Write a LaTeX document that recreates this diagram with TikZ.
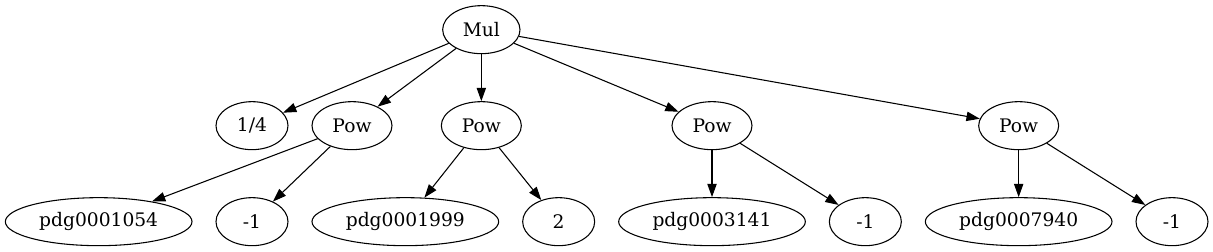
\documentclass[tikz,border=0pt]{standalone}
\usepackage{fontspec}
\setmainfont{DejaVu Serif}
\usepackage{tikz}
\usetikzlibrary{arrows.meta,shapes.geometric}
\definecolor{gvink}{HTML}{000000}

\begin{document}
\begin{tikzpicture}[x=1pt,y=1pt,
  gvnode/.style={draw=gvink,ellipse,line width=0.8pt,inner sep=0pt,
    minimum height=36pt,font=\fontsize{14}{16}\selectfont},
  leafnode/.style={gvnode,minimum width=140pt},
  numnode/.style={gvnode,minimum width=54pt},
  opnode/.style={gvnode,minimum width=60pt},
  gvedge/.style={draw=gvink,line width=0.8pt,-{Triangle[length=10pt,width=7pt]}}]
\useasboundingbox (0,0) rectangle (909.75,188.25);
\node[gvnode,minimum width=58pt] (mul) at (361,166) {Mul};
\node[numnode] (quarter) at (189,94) {1/4};
\node[opnode] (powA) at (264,94) {Pow};
\node[opnode] (powB) at (361,94) {Pow};
\node[opnode] (powC) at (534,94) {Pow};
\node[opnode] (powD) at (764,94) {Pow};
\node[leafnode] (pdgA) at (74,22) {pdg0001054};
\node[numnode] (expA) at (189,22) {-1};
\node[leafnode] (pdgB) at (304,22) {pdg0001999};
\node[numnode] (expB) at (419,22) {2};
\node[leafnode] (pdgC) at (534,22) {pdg0003141};
\node[numnode] (expC) at (649,22) {-1};
\node[leafnode] (pdgD) at (764,22) {pdg0007940};
\node[numnode] (expD) at (879,22) {-1};
\foreach \kid in {quarter,powA,powB,powC,powD}
  \draw[gvedge] (mul) -- (\kid);
\foreach \pw/\base/\ex in {powA/pdgA/expA,powB/pdgB/expB,powC/pdgC/expC,powD/pdgD/expD}{
  \draw[gvedge] (\pw) -- (\base);
  \draw[gvedge] (\pw) -- (\ex);
}
\end{tikzpicture}
\end{document}
